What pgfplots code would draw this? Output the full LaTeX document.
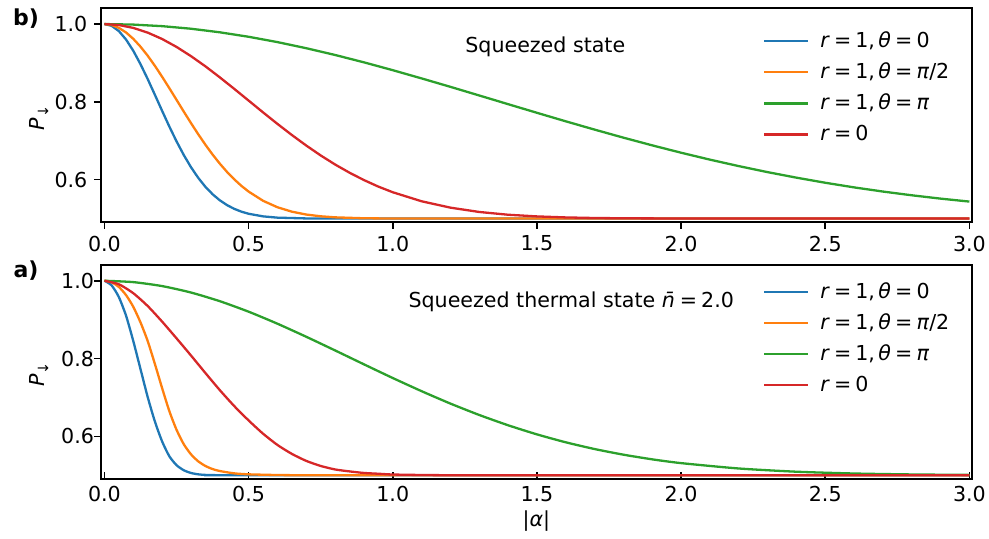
\documentclass[border=0pt]{standalone}
\usepackage{fontspec}
\setmainfont{DejaVu Sans}
\usepackage{pgfplots}
\pgfplotsset{compat=1.18}
\definecolor{cB}{HTML}{1F77B4}
\definecolor{cO}{HTML}{FF7F0E}
\definecolor{cG}{HTML}{2CA02C}
\definecolor{cR}{HTML}{D62728}
\newcommand{\fs}{\fontsize{10.3}{12.4}\selectfont}
\newcommand{\ls}{\rule[-2.6pt]{0pt}{10.6pt}\hspace{3.5pt}}
\newcommand{\eq}{\hspace{0.2em}=\hspace{0.2em}}
\pgfplotsset{
  myaxis/.style={
    scale only axis, width=435.35pt, height=107pt,
    xmin=-0.012, xmax=3.008, ymin=0.4905, ymax=1.0405,
    xtick={0,0.5,1,1.5,2,2.5,3}, ytick={0.6,0.8,1.0},
    xtick pos=left, ytick pos=left,
    major tick length=3.3pt,
    tick style={black, line width=0.8pt},
    axis line style={line width=0.8pt},
    tick label style={font=\fs},
    xticklabel style={/pgf/number format/.cd, fixed, fixed zerofill, precision=1, assume math mode=true},
    yticklabel style={/pgf/number format/.cd, fixed, fixed zerofill, precision=1, assume math mode=true},
    ylabel={\textit{P}\textsubscript{↓}},
    ylabel style={font=\fs, at={(axis description cs:-0.0712,0.49)}, anchor=center},
    legend style={draw=none, fill=none, font=\fs, row sep=2.05pt, anchor=north west},
    legend cell align=left,
    legend image code/.code={\draw[#1, line width=1.15pt] (0pt,0pt) -- (22pt,0pt);},
  },
  lw/.style={line width=1.15pt},
}
\begin{document}
\begin{tikzpicture}
\useasboundingbox (-50.5pt,4.15pt) rectangle (444pt,-265.35pt);
% ---------------- top panel b)
\begin{axis}[myaxis, at={(0pt,0pt)}, anchor=north west,
  tick align=outside,
  legend style={at={(rel axis cs:0.753,0.93)}}]
\addplot[cB, lw] coordinates {(0,1) (0.025,0.9954) (0.05,0.9819) (0.075,0.9601) (0.1,0.9313) (0.125,0.8969) (0.15,0.8586) (0.175,0.8180) (0.2,0.7769) (0.225,0.7366) (0.25,0.6985) (0.275,0.6635) (0.3,0.6322) (0.325,0.6050) (0.35,0.5818) (0.375,0.5626) (0.4,0.5470) (0.425,0.5347) (0.45,0.5251) (0.475,0.5178) (0.5,0.5124) (0.55,0.5057) (0.6,0.5024) (0.7,0.5004) (0.8,0.5000) (3.0,0.5)};
\addlegendentry{\ls\textit{r}\eq1,\,\textit{θ}\eq0}
\addplot[cO, lw] coordinates {(0,1) (0.025,0.9975) (0.05,0.9902) (0.075,0.9783) (0.1,0.9620) (0.125,0.9419) (0.15,0.9186) (0.175,0.8925) (0.2,0.8645) (0.225,0.8352) (0.25,0.8052) (0.275,0.7751) (0.3,0.7456) (0.325,0.7171) (0.35,0.6900) (0.375,0.6646) (0.4,0.6413) (0.425,0.6200) (0.45,0.6010) (0.475,0.5841) (0.5,0.5694) (0.55,0.5458) (0.6,0.5291) (0.65,0.5178) (0.7,0.5104) (0.75,0.5059) (0.8,0.5032) (0.9,0.5008) (1.0,0.5002) (1.2,0.5) (3.0,0.5)};
\addlegendentry{\ls\textit{r}\eq1,\,\textit{θ}\eq\textit{π}/2}
\addplot[cG, lw] coordinates {(0,1) (0.1,0.9986) (0.2,0.9946) (0.3,0.9880) (0.4,0.9788) (0.5,0.9673) (0.6,0.9536) (0.7,0.9379) (0.8,0.9205) (0.9,0.9016) (1.0,0.8814) (1.1,0.8603) (1.2,0.8386) (1.3,0.8164) (1.4,0.7941) (1.5,0.7719) (1.6,0.7500) (1.7,0.7287) (1.8,0.7080) (1.9,0.6882) (2.0,0.6693) (2.1,0.6515) (2.2,0.6349) (2.3,0.6194) (2.4,0.6052) (2.5,0.5921) (2.6,0.5802) (2.7,0.5695) (2.8,0.5599) (2.9,0.5513) (3.0,0.5437)};
\addlegendentry{\ls\textit{r}\eq1,\,\textit{θ}\eq\textit{π}}
\addplot[cR, lw] coordinates {(0,1) (0.05,0.9975) (0.1,0.9901) (0.15,0.9780) (0.2,0.9616) (0.25,0.9412) (0.3,0.9176) (0.35,0.8914) (0.4,0.8631) (0.45,0.8335) (0.5,0.8033) (0.55,0.7730) (0.6,0.7434) (0.65,0.7148) (0.7,0.6877) (0.75,0.6623) (0.8,0.6390) (0.85,0.6179) (0.9,0.5990) (0.95,0.5822) (1.0,0.5677) (1.1,0.5445) (1.2,0.5281) (1.3,0.5170) (1.4,0.5099) (1.5,0.5056) (1.6,0.5030) (1.7,0.5015) (1.8,0.5008) (2.0,0.5002) (2.2,0.5) (3.0,0.5)};
\addlegendentry{\ls\textit{r}\eq0}
\node[font=\fs] at (axis cs:1.529,0.9415) {Squeezed state};
\end{axis}
% ---------------- bottom panel a)
\begin{axis}[myaxis, at={(0pt,-128.35pt)}, anchor=north west,
  tick align=inside,
  every major y tick/.append style={xshift=-3.3pt},
  xlabel={|\textit{α}|},
  xlabel style={font=\fs, at={(axis description cs:0.5,-0.198)}, anchor=center},
  legend style={at={(rel axis cs:0.753,0.958)}}]
\addplot[cB, lw, smooth, tension=0.4] coordinates {(0,1) (0.025,0.988) (0.05,0.958) (0.075,0.910) (0.1,0.845) (0.125,0.773) (0.15,0.701) (0.175,0.638) (0.2,0.587) (0.225,0.549) (0.25,0.526) (0.275,0.513) (0.3,0.506) (0.325,0.5025) (0.35,0.501) (0.4,0.5002) (0.5,0.5) (3.0,0.5)};
\addlegendentry{\ls\textit{r}\eq1,\,\textit{θ}\eq0}
\addplot[cO, lw, smooth, tension=0.4] coordinates {(0,1) (0.025,0.996) (0.05,0.984) (0.075,0.963) (0.1,0.933) (0.125,0.893) (0.15,0.845) (0.175,0.786) (0.2,0.724) (0.225,0.665) (0.25,0.617) (0.275,0.580) (0.3,0.554) (0.325,0.536) (0.35,0.524) (0.375,0.516) (0.4,0.511) (0.45,0.505) (0.5,0.5025) (0.6,0.5007) (0.7,0.5001) (0.8,0.5) (3.0,0.5)};
\addlegendentry{\ls\textit{r}\eq1,\,\textit{θ}\eq\textit{π}/2}
\addplot[cG, lw, smooth, tension=0.4] coordinates {(0,1) (0.1,0.9965) (0.2,0.9863) (0.3,0.9698) (0.4,0.9475) (0.5,0.9205) (0.6,0.8896) (0.7,0.8560) (0.8,0.8209) (0.9,0.7852) (1.0,0.7500) (1.1,0.7162) (1.2,0.6843) (1.3,0.6550) (1.4,0.6286) (1.5,0.6052) (1.6,0.5848) (1.7,0.5675) (1.8,0.5530) (1.9,0.5410) (2.0,0.5313) (2.2,0.5175) (2.4,0.5092) (2.6,0.5046) (2.8,0.5022) (3.0,0.5010)};
\addlegendentry{\ls\textit{r}\eq1,\,\textit{θ}\eq\textit{π}}
\addplot[cR, lw, smooth, tension=0.4] coordinates {(0,1) (0.05,0.991) (0.1,0.968) (0.15,0.935) (0.2,0.895) (0.25,0.852) (0.3,0.808) (0.35,0.763) (0.4,0.719) (0.45,0.678) (0.5,0.641) (0.55,0.607) (0.6,0.578) (0.65,0.555) (0.7,0.537) (0.75,0.524) (0.8,0.515) (0.85,0.510) (0.9,0.506) (0.95,0.504) (1.0,0.502) (1.1,0.5008) (1.2,0.5002) (1.4,0.5) (3.0,0.5)};
\addlegendentry{\ls\textit{r}\eq0}
\node[font=\fs] at (axis cs:1.619,0.946) {Squeezed thermal state \textit{\={n}}\eq2.0};
\end{axis}
\node[font=\fontsize{11}{13}\selectfont\bfseries] at (-37.5pt,-5.1pt) {b)};
\node[font=\fontsize{11}{13}\selectfont\bfseries] at (-37.5pt,-131.1pt) {a)};
\end{tikzpicture}
\end{document}
